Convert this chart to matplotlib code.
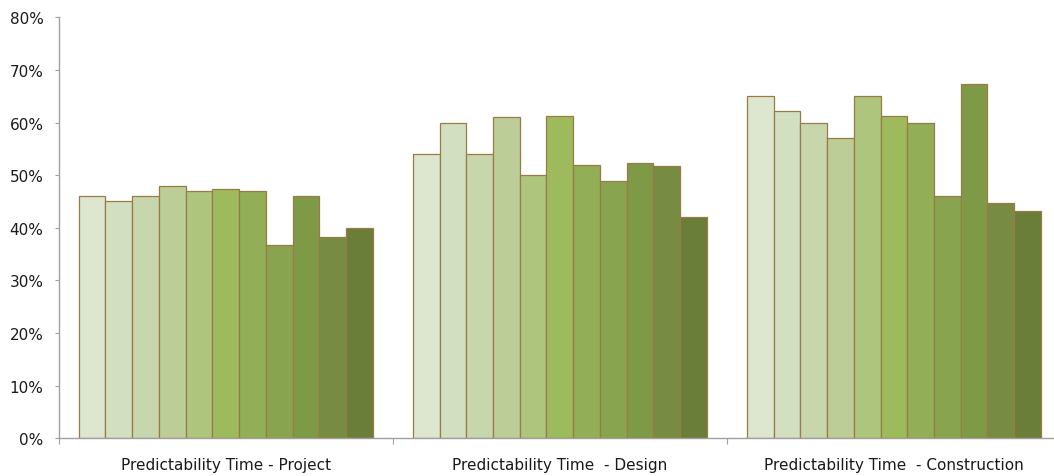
import matplotlib
matplotlib.use("Agg")
import matplotlib.pyplot as plt
import numpy as np
from matplotlib.ticker import PercentFormatter

categories = ["Predictability Time - Project",
              "Predictability Time  - Design",
              "Predictability Time  - Construction"]
project = [46.0, 45.0, 46.0, 48.0, 47.0, 47.4, 47.0, 36.8, 46.1, 38.3, 40.0]
design = [54.0, 60.0, 54.0, 61.0, 50.0, 61.3, 52.0, 48.9, 52.4, 51.8, 42.1]
construction = [65.1, 62.1, 60.0, 57.1, 65.1, 61.3, 60.0, 46.1, 67.3, 44.7, 43.1]
series_values = [project, design, construction]

colors = ["#dde6cf", "#d2dfc0", "#c7d6ad", "#bccd98", "#adc57d", "#9dbb5c",
          "#92ae56", "#89a44f", "#7f9a47", "#778c42", "#6a7e3a"]
edge = "#9b7b45"

W, H = 1054, 477
fig = plt.figure(figsize=(W / 100, H / 100), dpi=100)
ax = fig.add_axes([58.7 / W, (H - 439.3) / H, (1061 - 58.7) / W, (439.3 - 18.3) / H])

n = len(colors)
margin = 0.06
bw = (1 - 2 * margin) / n
for g, vals in enumerate(series_values):
    for i, v in enumerate(vals):
        ax.bar(g + margin + i * bw, v, width=bw, align="edge",
               color=colors[i], edgecolor=edge, linewidth=0.9, zorder=2)

ax.set_xlim(0, 3)
ax.set_ylim(0, 80)
ax.set_yticks(np.arange(0, 81, 10))
ax.yaxis.set_major_formatter(PercentFormatter(decimals=0))
ax.set_xticks([0, 1, 2, 3])
ax.set_xticklabels([])
ax.set_xticks([0.5, 1.5, 2.5], minor=True)
ax.set_xticklabels(categories, minor=True)
ax.tick_params(axis="x", which="minor", length=0, pad=13.5, labelsize=11, colors="#1a1a1a")
ax.tick_params(axis="x", which="major", length=4, color="#a0a0a0", direction="out")
ax.tick_params(axis="y", length=3, color="#a0a0a0", pad=8, labelsize=11, labelcolor="#1a1a1a")

for s in ["top", "right"]:
    ax.spines[s].set_visible(False)
for s in ["left", "bottom"]:
    ax.spines[s].set_color("#a0a0a0")
    ax.spines[s].set_linewidth(1.0)

fig.savefig("out.png", dpi=100)
